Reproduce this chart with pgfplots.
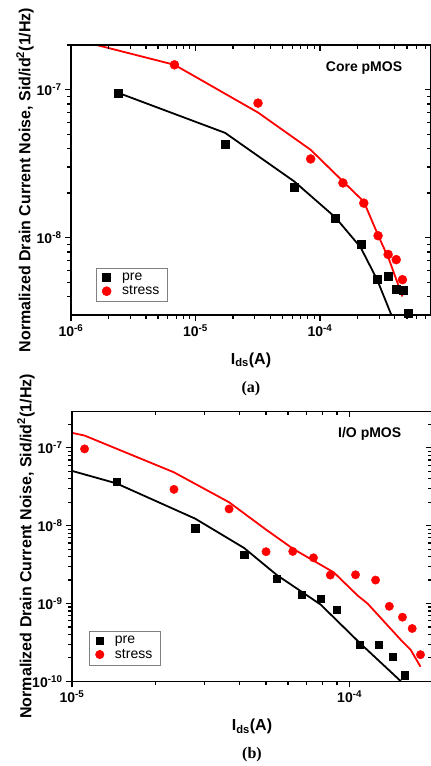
\documentclass[border=0pt]{standalone}
\usepackage{pgfplots}
\pgfplotsset{compat=1.18}
\usepackage{fontspec}
\setmainfont{Liberation Sans}
\newfontfamily\capfont{Liberation Serif}

\pgfplotsset{
  log number format basis/.code 2 args={%
    \pgfmathtruncatemacro\myexp{round(#2)}%
    \textbf{#1}\textsuperscript{\textbf{\myexp}}},
}

\begin{document}
\begin{tikzpicture}
\useasboundingbox (0,0) rectangle (431pt,766pt);

% ---- (a) Core pMOS
\begin{axis}[scale only axis, width=360pt, height=270pt, anchor=south west,
  at={(71pt,451pt)}, xmode=log, ymode=log, clip=false,
  xmin=1e-6, xmax=7.8e-4, ymin=3e-9, ymax=2e-7,
  xtick={1e-6,1e-5,1e-4}, ytick={1e-8,1e-7},
  extra x ticks={2e-6,3e-6,4e-6,5e-6,6e-6,7e-6,8e-6,9e-6,
    2e-5,3e-5,4e-5,5e-5,6e-5,7e-5,8e-5,9e-5,2e-4,3e-4,4e-4,5e-4,6e-4,7e-4},
  extra y ticks={4e-9,5e-9,6e-9,7e-9,8e-9,9e-9,
    2e-8,3e-8,4e-8,5e-8,6e-8,7e-8,8e-8,9e-8,2e-7},
  extra x tick labels={}, extra y tick labels={},
  extra tick style={major tick length=4pt},
  axis line style={line width=1.3pt},
  tick style={black, line width=1.2pt},
  major tick length=6pt,
  tick align=outside, xtick pos=left, ytick pos=left,
  ticklabel style={font=\fontsize{14}{16}\selectfont\bfseries},
  xlabel={\textbf{I}\textsubscript{\textbf{ds}}\textbf{(A)}},
  ylabel={Normalized Drain Current Noise, Sid/id\textsuperscript{2}(1/Hz)},
  xlabel style={at={(axis description cs:0.5,-0.167)}, anchor=center,
    font=\fontsize{16}{18}\selectfont\bfseries},
  ylabel style={at={(axis description cs:-0.128,0.5)}, anchor=center,
    font=\fontsize{16}{18}\selectfont\bfseries},
  legend cell align=left,
  legend style={draw=gray, line width=0.6pt, anchor=south west,
    font=\fontsize{14}{16}\selectfont, inner xsep=6pt, inner ysep=3pt, row sep=0pt,
    /tikz/every odd column/.append style={column sep=9pt},
    at={(axis description cs:0.069,0.049)}}]
\addplot[black, line width=1.8pt, forget plot] coordinates {
  (2.4e-6,9.5e-8) (1.73e-5,5.1e-8) (6.2e-5,2.4e-8) (1.33e-4,1.37e-8)
  (2.12e-4,8.6e-9) (2.88e-4,5.2e-9) (3.75e-4,3.0e-9)};
\addplot[red, line width=1.8pt, forget plot] coordinates {
  (1.61e-6,2.0e-7) (6.78e-6,1.47e-7) (3.18e-5,7.0e-8) (8.42e-5,3.92e-8)
  (1.53e-4,2.4e-8) (2.25e-4,1.75e-8) (2.93e-4,1.04e-8) (3.6e-4,7.07e-9)
  (4.6e-4,4.0e-9)};
\addplot[only marks, mark=square*, black, mark size=4pt] coordinates {
  (2.4e-6,9.5e-8) (1.73e-5,4.3e-8) (6.2e-5,2.19e-8) (1.33e-4,1.35e-8)
  (2.14e-4,9.0e-9) (2.88e-4,5.2e-9) (3.53e-4,5.5e-9) (4.12e-4,4.5e-9)
  (4.66e-4,4.4e-9) (5.08e-4,3.1e-9)};
\addlegendentry{pre}
\addplot[only marks, mark=*, red, mark size=4.5pt] coordinates {
  (6.78e-6,1.47e-7) (3.18e-5,8.1e-8) (8.42e-5,3.4e-8) (1.53e-4,2.34e-8)
  (2.25e-4,1.71e-8) (2.93e-4,1.03e-8) (3.53e-4,7.7e-9) (4.1e-4,7.1e-9)
  (4.6e-4,5.2e-9)};
\addlegendentry{stress}
\node[font=\fontsize{14}{16}\selectfont\bfseries] at (axis description cs:0.814,0.915) {Core pMOS};
\node[font=\capfont\fontsize{16}{18}\selectfont\bfseries] at (axis description cs:0.5,-0.274) {(a)};
\end{axis}
\begin{axis}[scale only axis, width=360pt, height=270pt, anchor=south west,
  at={(71pt,451pt)}, xmode=log, ymode=log,
  xmin=1e-6, xmax=7.8e-4, ymin=3e-9, ymax=2e-7,
  xtick={1e-6,1e-5,1e-4}, ytick={1e-8,1e-7},
  extra x ticks={2e-6,3e-6,4e-6,5e-6,6e-6,7e-6,8e-6,9e-6,
    2e-5,3e-5,4e-5,5e-5,6e-5,7e-5,8e-5,9e-5,2e-4,3e-4,4e-4,5e-4,6e-4,7e-4},
  extra y ticks={4e-9,5e-9,6e-9,7e-9,8e-9,9e-9,
    2e-8,3e-8,4e-8,5e-8,6e-8,7e-8,8e-8,9e-8,2e-7},
  extra x tick labels={}, extra y tick labels={},
  extra tick style={major tick length=4pt},
  axis line style={line width=1.3pt},
  tick style={black, line width=1.2pt},
  major tick length=6pt,
  tick align=inside, xtick pos=right, ytick pos=right,
  xticklabels={}, yticklabels={}]
\addplot[draw=none] coordinates {(1e-5,1e-8)};
\end{axis}

% ---- (b) I/O pMOS
\begin{axis}[scale only axis, width=360pt, height=270pt, anchor=south west,
  at={(72pt,84.7pt)}, xmode=log, ymode=log, clip=false,
  xmin=1e-5, xmax=1.98e-4, ymin=1e-10, ymax=2.95e-7,
  xtick={1e-5,1e-4}, ytick={1e-10,1e-9,1e-8,1e-7},
  extra x ticks={2e-5,3e-5,4e-5,5e-5,6e-5,7e-5,8e-5,9e-5},
  extra y ticks={2e-10,3e-10,4e-10,5e-10,6e-10,7e-10,8e-10,9e-10,
    2e-9,3e-9,4e-9,5e-9,6e-9,7e-9,8e-9,9e-9,
    2e-8,3e-8,4e-8,5e-8,6e-8,7e-8,8e-8,9e-8,2e-7},
  extra x tick labels={}, extra y tick labels={},
  extra tick style={major tick length=4pt},
  axis line style={line width=1.3pt},
  tick style={black, line width=1.2pt},
  major tick length=6pt,
  tick align=outside, xtick pos=left, ytick pos=left,
  ticklabel style={font=\fontsize{14}{16}\selectfont\bfseries},
  xlabel={\textbf{I}\textsubscript{\textbf{ds}}\textbf{(A)}},
  ylabel={Normalized Drain Current Noise, Sid/id\textsuperscript{2}(1/Hz)},
  xlabel style={at={(axis description cs:0.5,-0.167)}, anchor=center,
    font=\fontsize{16}{18}\selectfont\bfseries},
  ylabel style={at={(axis description cs:-0.128,0.5)}, anchor=center,
    font=\fontsize{16}{18}\selectfont\bfseries},
  legend cell align=left,
  legend style={draw=gray, line width=0.6pt, anchor=south west,
    font=\fontsize{14}{16}\selectfont, inner xsep=6pt, inner ysep=3pt, row sep=0pt,
    /tikz/every odd column/.append style={column sep=9pt},
    at={(axis description cs:0.048,0.06)}}]
\addplot[black, line width=1.8pt, forget plot] coordinates {
  (1e-5,5.06e-8) (1.445e-5,3.5e-8) (2.78e-5,1.23e-8) (4.17e-5,5.16e-9)
  (5.47e-5,2.32e-9) (7.86e-5,9.7e-10) (1.09e-4,3.09e-10) (1.53e-4,1e-10)};
\addplot[red, line width=1.8pt, forget plot] coordinates {
  (1e-5,1.56e-7) (1.11e-5,1.44e-7) (2.33e-5,4.85e-8) (3.68e-5,2.0e-8)
  (5.0e-5,8.9e-9) (6.28e-5,5.0e-9) (8.77e-5,2.51e-9) (1.07e-4,1.26e-9)
  (1.16e-4,1.0e-9) (1.53e-4,3.4e-10) (1.66e-4,2.53e-10) (1.80e-4,1.54e-10)};
\addplot[only marks, mark=square*, black, mark size=3.6pt] coordinates {
  (1.445e-5,3.68e-8) (2.78e-5,9.3e-9) (4.17e-5,4.24e-9) (5.47e-5,2.06e-9)
  (6.71e-5,1.31e-9) (7.86e-5,1.15e-9) (8.98e-5,8.3e-10) (1.09e-4,2.96e-10)
  (1.27e-4,2.96e-10) (1.43e-4,2.07e-10) (1.58e-4,1.2e-10)};
\addlegendentry{pre}
\addplot[only marks, mark=*, red, mark size=4.2pt] coordinates {
  (1.11e-5,9.7e-8) (2.33e-5,2.93e-8) (3.68e-5,1.64e-8) (5.0e-5,4.63e-9)
  (6.24e-5,4.67e-9) (7.41e-5,3.87e-9) (8.52e-5,2.32e-9) (1.05e-4,2.34e-9)
  (1.24e-4,2.0e-9) (1.39e-4,9.2e-10) (1.55e-4,6.67e-10) (1.68e-4,4.77e-10)
  (1.80e-4,2.2e-10)};
\addlegendentry{stress}
\node[font=\fontsize{14}{16}\selectfont\bfseries] at (axis description cs:0.827,0.916) {I/O pMOS};
\node[font=\capfont\fontsize{16}{18}\selectfont\bfseries] at (axis description cs:0.5,-0.273) {(b)};
\end{axis}
\begin{axis}[scale only axis, width=360pt, height=270pt, anchor=south west,
  at={(72pt,84.7pt)}, xmode=log, ymode=log,
  xmin=1e-5, xmax=1.98e-4, ymin=1e-10, ymax=2.95e-7,
  xtick={1e-5,1e-4}, ytick={1e-10,1e-9,1e-8,1e-7},
  extra x ticks={2e-5,3e-5,4e-5,5e-5,6e-5,7e-5,8e-5,9e-5},
  extra y ticks={2e-10,3e-10,4e-10,5e-10,6e-10,7e-10,8e-10,9e-10,
    2e-9,3e-9,4e-9,5e-9,6e-9,7e-9,8e-9,9e-9,
    2e-8,3e-8,4e-8,5e-8,6e-8,7e-8,8e-8,9e-8,2e-7},
  extra x tick labels={}, extra y tick labels={},
  extra tick style={major tick length=4pt},
  axis line style={line width=1.3pt},
  tick style={black, line width=1.2pt},
  major tick length=6pt,
  tick align=inside, xtick pos=right, ytick pos=right,
  xticklabels={}, yticklabels={}]
\addplot[draw=none] coordinates {(5e-5,1e-8)};
\end{axis}
\end{tikzpicture}
\end{document}
